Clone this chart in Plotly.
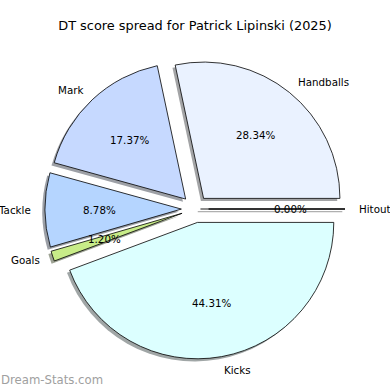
import math
import plotly.graph_objects as go

# ---- data (clockwise from 3 o'clock) ----
labels = ["Hitout", "Kicks", "Goals", "Tackle", "Mark", "Handballs"]
values = [0.00, 44.31, 1.20, 8.78, 17.37, 28.34]
colors = ["#ffffff", "#dcffff", "#c8ec88", "#b5d5ff", "#c6d9ff", "#eaf2ff"]
title_text = "DT score spread for Patrick Lipinski (2025)"
watermark = "Dream-Stats.com"

# ---- layout constants ----
W = H = 390
PULL = 0.1
DOM_X = [45 / W, 345 / W]
DOM_Y = [1 - 359 / H, 1 - 59 / H]
SHADOW = 2.7  # px
FONT = "DejaVu Sans"


def shadow_color(hexc):
    r, g, b = (int(hexc[i:i + 2], 16) for i in (1, 3, 5))
    f = lambda c: int(round(255 * 0.5 + 0.5 * 0.3 * c))
    return f"rgb({f(r)},{f(g)},{f(b)})"


fig = go.Figure()

common = dict(labels=labels, values=values, sort=False, direction="clockwise",
              rotation=90, pull=[PULL] * len(values), textinfo="none",
              showlegend=False)

# shadow pie
fig.add_trace(go.Pie(
    **common, hoverinfo="skip",
    marker=dict(colors=[shadow_color(c) for c in colors], line=dict(width=0)),
    domain=dict(x=[DOM_X[0] - SHADOW / W, DOM_X[1] - SHADOW / W],
                y=[DOM_Y[0] - SHADOW / H, DOM_Y[1] - SHADOW / H]),
))

# main pie
fig.add_trace(go.Pie(
    **common,
    marker=dict(colors=colors, line=dict(color="black", width=0.8)),
    domain=dict(x=DOM_X, y=DOM_Y),
))

# geometry derived from the pie domain (pixel space)
cx = (DOM_X[0] + DOM_X[1]) / 2 * W
cy = (1 - (DOM_Y[0] + DOM_Y[1]) / 2) * H
r = (DOM_X[1] - DOM_X[0]) * W / 2 / (1 + PULL)

total = sum(values)
annotations = []
shapes = []
start = 0.0
for lab, v in zip(labels, values):
    frac = v / total
    mid = -math.radians((start + frac / 2) * 360)  # clockwise
    ex = cx + PULL * r * math.cos(mid)
    ey = cy - PULL * r * math.sin(mid)
    lx = ex + 1.1 * r * math.cos(mid)
    ly = ey - 1.1 * r * math.sin(mid)
    annotations.append(dict(
        x=lx / W, y=1 - ly / H, xref="paper", yref="paper", text=lab,
        showarrow=False, xanchor="left" if math.cos(mid) > -1e-9 else "right",
        yanchor="middle", borderpad=0, borderwidth=0,
        font=dict(family=FONT, size=10.3, color="black")))
    px = ex + 0.6 * r * math.cos(mid)
    py = ey - 0.6 * r * math.sin(mid)
    annotations.append(dict(
        x=px / W, y=1 - py / H, xref="paper", yref="paper",
        text=f"{100 * frac:.2f}%", showarrow=False, xanchor="center",
        yanchor="middle", borderpad=0, borderwidth=0,
        font=dict(family=FONT, size=10.3, color="black")))
    if v == 0:
        x0 = cx + 0.4 * PULL * r * math.cos(mid)
        y0 = cy - 0.4 * PULL * r * math.sin(mid)
        x1 = ex + r * math.cos(mid)
        y1 = ey - r * math.sin(mid)
        shapes.append(dict(type="line", xref="paper", yref="paper",
                           x0=(x0 - SHADOW) / W, y0=1 - (y0 + SHADOW) / H,
                           x1=(x1 - SHADOW) / W, y1=1 - (y1 + SHADOW) / H,
                           line=dict(color="#b0b0b0", width=1.2)))
        shapes.append(dict(type="line", xref="paper", yref="paper",
                           x0=x0 / W, y0=1 - y0 / H, x1=x1 / W, y1=1 - y1 / H,
                           line=dict(color="black", width=0.9)))
    start += frac

annotations.append(dict(
    x=0, y=1 - 380 / H, xref="paper", yref="paper", text=watermark,
    showarrow=False, xanchor="left", yanchor="middle", borderpad=0,
    font=dict(family=FONT, size=11.7, color="#a0a0a0")))

fig.update_layout(
    width=W, height=H, margin=dict(l=0, r=0, t=0, b=0),
    paper_bgcolor="white", plot_bgcolor="white",
    title=dict(text=title_text, x=0.5, xanchor="center", y=1 - 25 / H,
               yanchor="middle", font=dict(family=FONT, size=12.9, color="black")),
    annotations=annotations, shapes=shapes,
)

fig.write_html("out.html",
               config={"displayModeBar": False},
               post_script="document.body.style.margin='0';"
                           "document.body.style.overflow='hidden';")
